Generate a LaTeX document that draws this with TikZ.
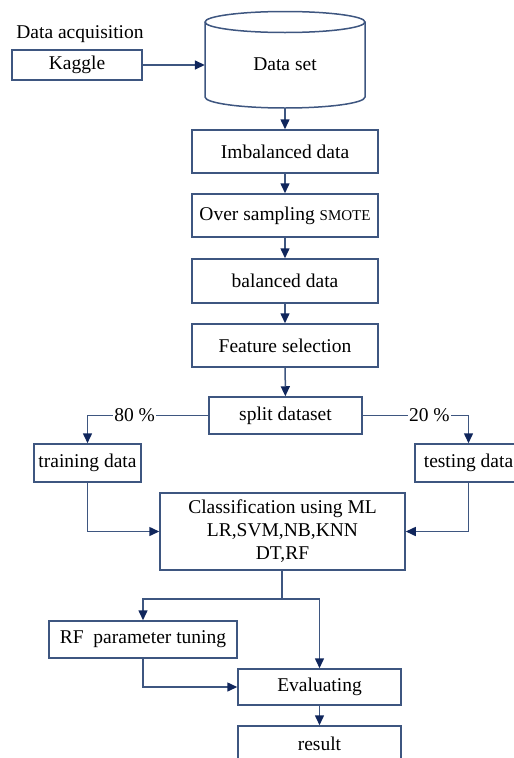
\documentclass[tikz,border=0pt]{standalone}
\usepackage{fontspec}
\setmainfont{Liberation Serif}
\usetikzlibrary{arrows.meta}

\definecolor{boxcol}{RGB}{62,86,128}
\definecolor{tipcol}{RGB}{16,38,92}

\tikzset{
  stage/.style={draw=boxcol, line width=1.5pt, rectangle, inner sep=2pt,
    font=\fontsize{19.5}{23}\selectfont},
  flow/.style={draw=boxcol, line width=1.5pt,
    >={Triangle[length=10pt,width=9pt,color=tipcol]}},
  pct/.style={fill=white, inner sep=1pt, font=\fontsize{19.5}{23}\selectfont},
}

\begin{document}
\begin{tikzpicture}[x=1pt, y=-1pt]
    \useasboundingbox (0,0) rectangle (514,758);

    % source
    \node[font=\fontsize{19.5}{23}\selectfont] (acq) at (80,34) {Data acquisition};
    \node[stage, minimum width=130pt, minimum height=30pt] (kaggle) at (77,65) {Kaggle};

    % data set drum
    \draw[draw=boxcol, line width=1.5pt] (205,22)
      arc[start angle=180, end angle=0, x radius=80pt, y radius=10.5pt] -- (365,97)
      arc[start angle=0, end angle=-180, x radius=80pt, y radius=11pt] -- cycle;
    \draw[draw=boxcol, line width=1.5pt] (205,22)
      arc[start angle=180, end angle=360, x radius=80pt, y radius=10.5pt];
    \node[font=\fontsize{19.5}{23}\selectfont, minimum width=160pt, minimum height=88pt,
      inner sep=0pt] (dataset) at (285,64) {Data set};

    % preprocessing chain
    \node[stage, minimum width=186pt, minimum height=43pt] (imb) at (285,151.5) {Imbalanced data};
    \node[stage, minimum width=186pt, minimum height=43pt] (over) at (285,215.5)
      {Over sampling {\fontsize{15}{17}\selectfont SMOTE}};
    \node[stage, minimum width=186pt, minimum height=44pt] (bal) at (285,281) {balanced data};
    \node[stage, minimum width=186pt, minimum height=43pt] (feat) at (285,345.5) {Feature selection};
    \node[stage, minimum width=153pt, minimum height=37pt] (split) at (285.5,415.5) {split dataset};

    % split
    \node[stage, minimum width=107pt, minimum height=38pt] (train) at (87.5,463) {training data};
    \node[stage, minimum width=107pt, minimum height=38pt] (test) at (468.5,463) {testing data};

    % models
    \node[stage, minimum width=245pt, minimum height=77pt, align=center] (cls) at (282.5,531.5)
      {Classification using ML\\LR,SVM,NB,KNN\\DT,RF};
    \node[stage, minimum width=188pt, minimum height=37pt] (rf) at (143,639.5) {RF\ \ parameter tuning};
    \node[stage, minimum width=163pt, minimum height=36pt] (eval) at (319.5,687) {Evaluating};
    \node[stage, minimum width=163pt, minimum height=36pt] (res) at (319.5,744) {result};

    \coordinate (fork) at (282,599);

    % connectors
    \draw[flow, ->] (kaggle.east) -- (kaggle.east -| dataset.west);
    \draw[flow, ->] (dataset.south) -- (imb.north);
    \draw[flow, ->] (imb) -- (over);
    \draw[flow, ->] (over) -- (bal);
    \draw[flow, ->] (bal) -- (feat);
    \draw[flow, ->] (feat) -- (split);
    \draw[flow, ->] (split.west) -- node[pct, pos=0.61] (lpct) {80 \%} (train.north |- split.west) -- (train.north);
    \draw[flow, ->] (split.east) -- node[pct, pos=0.63] (rpct) {20 \%} (test.north |- split.east) -- (test.north);
    \draw[flow, ->] (train.south) |- (cls.west);
    \draw[flow, ->] (test.south) |- (cls.east);
    \draw[flow] (cls.south -| fork) -- (fork);
    \draw[flow, ->] (fork) -| (rf.north);
    \draw[flow, ->] (fork) -| (eval.north);
    \draw[flow, ->] (rf.south) |- (eval.west);
    \draw[flow, ->] (eval.south) -- (res.north);
\end{tikzpicture}
\end{document}
